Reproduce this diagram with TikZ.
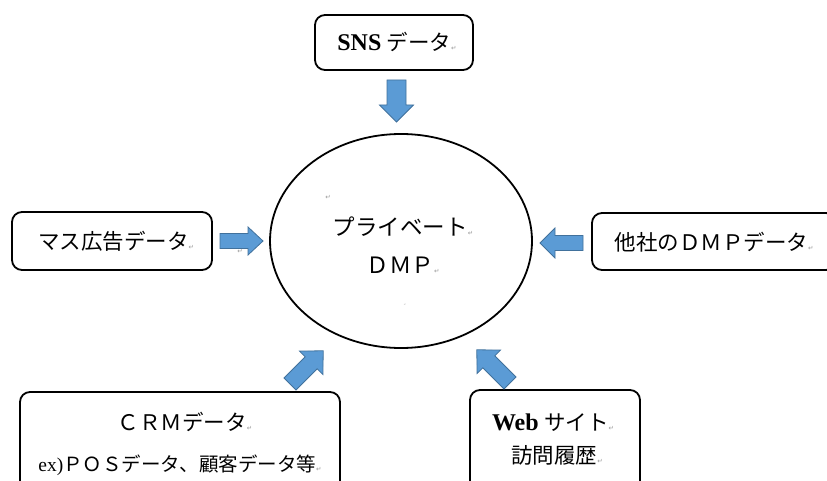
\documentclass[tikz,border=0pt]{standalone}
\usepackage{fontspec}
\usetikzlibrary{shapes.geometric}
\setmainfont{Liberation Serif}
\newfontfamily\jp{Noto Sans CJK JP}
\newfontfamily\marksfont{DejaVu Sans}
\definecolor{arrowfill}{HTML}{5B9BD5}
\definecolor{arrowline}{HTML}{41719C}
% small grey paragraph mark after a line
\newcommand\retmark{{\marksfont\fontsize{6.5}{7}\selectfont\textcolor{black!40}{↵}}}
% larger bold Latin words inside the Japanese labels
\newcommand\latinbold[1]{{\fontsize{24}{26}\selectfont\bfseries #1}}
\tikzset{
  srcbox/.style={draw=black, line width=1.8pt, rounded corners=10pt, fill=white, inner sep=0pt},
  lbl/.style={font=\fontsize{21.5}{24}\selectfont, inner sep=0pt, anchor=base},
  feed/.style={fill=arrowfill, draw=arrowline, line width=0.8pt, line join=miter},
  % block arrow: #1 length, #2 shaft width, #3 head width, #4 head length
  pics/feedarrow/.style n args={4}{code={
    \path[feed] (0,-#2/2) -- (#1-#4,-#2/2) -- (#1-#4,-#3/2) -- (#1,0)
      -- (#1-#4,#3/2) -- (#1-#4,#2/2) -- (0,#2/2) -- cycle;
  }}
}
\begin{document}
\begin{tikzpicture}[x=1pt,y=-1pt]
\useasboundingbox (0,0) rectangle (827,481);
\clip (0,0) rectangle (827,481);
\fill[white] (0,0) rectangle (827,481);

% central store
\node[draw, line width=1.8pt, ellipse, minimum width=262pt, minimum height=214pt, inner sep=0pt] (dmp) at (401,241) {};
\node[lbl, font=\fontsize{22.5}{24}\selectfont] (dmp1) at (403,235) {\jp プライベート\retmark};
\node[lbl, font=\fontsize{22.5}{24}\selectfont] (dmp2) at (403,273) {\jp ＤＭＰ\retmark};
\node[inner sep=0pt] (stray1) at (328,197) {\retmark};
\node[inner sep=0pt, scale=0.4] (stray2) at (405,305) {\retmark};

% data sources
\node[srcbox, minimum width=158pt, minimum height=55pt] (sns) at (394,42.5) {};
\node[lbl] (snst) at (397,51) {\latinbold{SNS} {\jp データ}\retmark};

\node[srcbox, minimum width=200pt, minimum height=58pt] (mass) at (112,241) {};
\node[lbl] (masst) at (116,249) {\jp マス広告データ\retmark};

\node[srcbox, minimum width=244pt, minimum height=57pt] (other) at (714,241.5) {};
\node[lbl] (othert) at (714,250) {\jp 他社のＤＭＰデータ\retmark};

\node[srcbox, minimum width=320pt, minimum height=110pt] (crm) at (180,447) {};
\node[lbl] (crmt1) at (185,430) {\jp ＣＲＭデータ\retmark};
\node[lbl, font=\fontsize{19.5}{22}\selectfont] (crmt2) at (180,471) {ex)\jp ＰＯＳデータ、顧客データ等\retmark};

\node[srcbox, minimum width=170pt, minimum height=110pt] (web) at (555,445) {};
\node[lbl] (webt1) at (553,430) {\latinbold{Web} {\jp サイト}\retmark};
\node[lbl] (webt2) at (557,463) {\jp 訪問履歴\retmark};

% feed arrows towards the store
\pic[rotate=-90] at (396.5,80) {feedarrow={42}{19}{34}{17}};
\pic at (220,241) {feedarrow={43}{15}{28}{15}};
\node[inner sep=0pt] (stray3) at (240,251) {\retmark};
\pic[rotate=180] at (583,243) {feedarrow={43}{15}{30}{15}};
\pic[rotate=45] at (290,384) {feedarrow={47}{17}{33}{17}};
\pic[rotate=135] at (510,383) {feedarrow={47}{17}{33}{17}};
\end{tikzpicture}
\end{document}
